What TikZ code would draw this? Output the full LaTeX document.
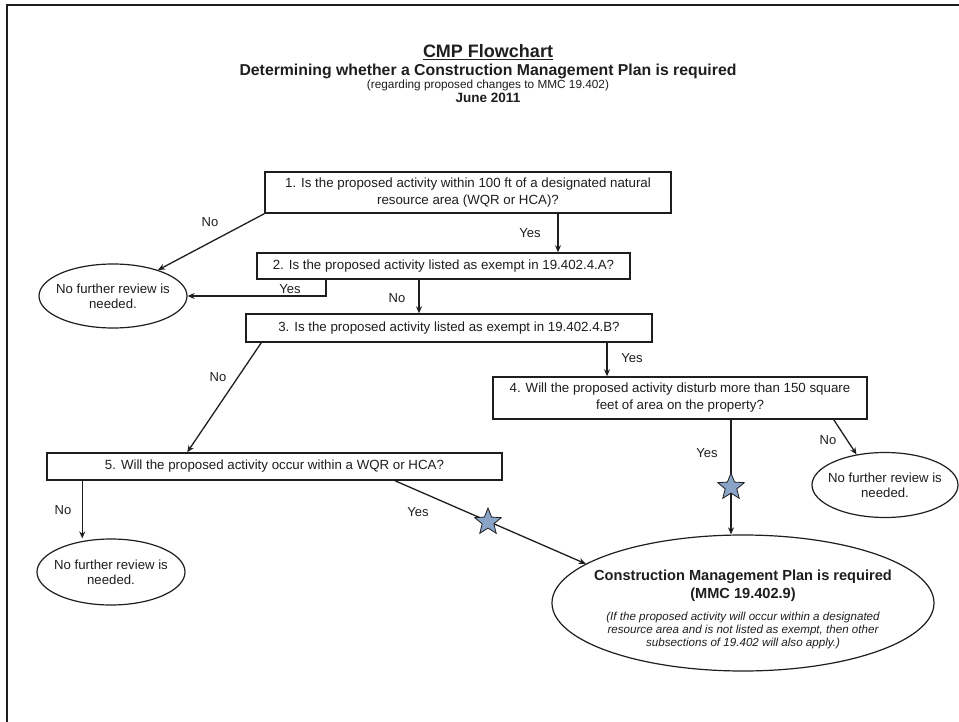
\documentclass[tikz,border=0pt]{standalone}
\usepackage{fontspec}
\setmainfont{Liberation Sans}
\definecolor{starblue}{RGB}{138, 164, 200}
\definecolor{inkgray}{RGB}{30, 30, 30}
\usetikzlibrary{shapes, arrows.meta, positioning, calc}

\begin{document}
\begin{tikzpicture}[x=1pt, y=-1pt, inkgray,
    qbox/.style={draw, line width=1.5pt, align=center, inner sep=0pt,
      font=\fontsize{13.3}{17}\selectfont},
    endnote/.style={draw, ellipse, line width=1.2pt, align=center, inner xsep=-6pt, inner ysep=0pt,
      minimum width=148pt, minimum height=64pt, font=\fontsize{13.2}{15}\selectfont},
    flow/.style={-{Stealth[length=7pt, width=6pt]}, line width=1.3pt},
    answer/.style={font=\fontsize{13}{15}\selectfont},
    mark star/.style={star, star points=5, star point ratio=2.3, draw=inkgray, fill=starblue,
      line width=0.8pt, minimum size=28pt, inner sep=0pt}]
  \useasboundingbox[fill=white] (0,0) rectangle (959,722);
  % page frame (right and bottom edges are off the sheet)
  \draw[line width=2pt] (7,722) -- (7,5) -- (959,5);

  % heading
  \node (head) at (488,52) {\fontsize{18}{21}\bfseries\selectfont \underline{CMP Flowchart}};
  \node (sub) at (488,71) {\fontsize{15.8}{18}\bfseries\selectfont Determining whether a Construction Management Plan is required};
  \node (note) at (488,85) {\fontsize{11.8}{13}\selectfont (regarding proposed changes to MMC 19.402)};
  \node (date) at (488,98) {\fontsize{13.5}{16}\bfseries\selectfont June 2011};

  % questions
  \node[qbox, minimum width=406pt, minimum height=41pt] (q1) at (468,192.5)
    {1. Is the proposed activity within 100 ft of a designated natural\\resource area (WQR or HCA)?};
  \node[qbox, minimum width=373pt, minimum height=26pt] (q2) at (443.5,266)
    {2. Is the proposed activity listed as exempt in 19.402.4.A?};
  \node[qbox, minimum width=406pt, minimum height=28pt] (q3) at (449,328)
    {3. Is the proposed activity listed as exempt in 19.402.4.B?};
  \node[qbox, minimum width=374pt, minimum height=42pt] (q4) at (680,398)
    {4. Will the proposed activity disturb more than 150 square\\feet of area on the property?};
  \node[qbox, minimum width=455pt, minimum height=27pt] (q5) at (274.5,466.5)
    {5. Will the proposed activity occur within a WQR or HCA?};

  % outcomes
  \node[endnote] (stop1) at (113,296) {No further review is\\needed.};
  \node[endnote, minimum width=146pt, minimum height=65pt] (stop2) at (885,485) {No further review is\\needed.};
  \node[endnote, minimum height=66pt] (stop3) at (111,572) {No further review is\\needed.};
  \node[draw, ellipse, line width=1.2pt, inner xsep=-22pt, inner ysep=0pt,
    minimum width=382pt, minimum height=136pt] (cmp) at (743,603)
    {\raisebox{-9pt}[0pt][0pt]{\parbox{310pt}{\centering
     {\fontsize{14.6}{18}\bfseries\selectfont Construction Management Plan is required\\(MMC 19.402.9)\par}
     \vspace{9pt}
     {\fontsize{11.6}{12.8}\itshape\selectfont (If the proposed activity will occur within a designated\\
      resource area and is not listed as exempt, then other\\subsections of 19.402 will also apply.)\par}}}};

  % connectors
  \draw[flow] (q1.south west) -- (stop1.30);
  \node[answer] at (210,222) {No};
  \draw[flow] ([xshift=90pt]q1.south) -- ([xshift=90pt]q1.south |- q2.north);
  \node[answer] at (530,233) {Yes};

  \draw[flow] ([xshift=-117.5pt]q2.south) |- (stop1.east);
  \node[answer] at (290,289) {Yes};
  \draw[flow] ([xshift=-24.5pt]q2.south) -- ([xshift=-24.5pt]q2.south |- q3.north);
  \node[answer] at (397,298) {No};

  \draw[flow] ([xshift=16pt]q3.south west) -- ([xshift=141pt]q5.north west);
  \node[answer] at (218,377) {No};
  \draw[flow] ([xshift=158pt]q3.south) -- ([xshift=158pt]q3.south |- q4.north);
  \node[answer] at (632,358) {Yes};

  \draw[flow] ([xshift=-34pt]q4.south east) -- (stop2.133);
  \node[answer] at (828,440) {No};
  \draw[flow] ([xshift=51pt]q4.south) -- ([xshift=51pt]q4.south |- cmp.north);
  \node[answer] at (707,453) {Yes};
  \node[mark star] (star1) at (731,487) {};

  \draw[flow] ([xshift=36pt]q5.south west) -- ([xshift=36pt]q5.south west |- stop3.north);
  \node[answer] at (63,510) {No};
  \draw[flow] ([xshift=120.5pt]q5.south) -- (cmp.166);
  \node[answer] at (418,512) {Yes};
  \node[mark star] (star2) at (488,522) {};
\end{tikzpicture}
\end{document}
